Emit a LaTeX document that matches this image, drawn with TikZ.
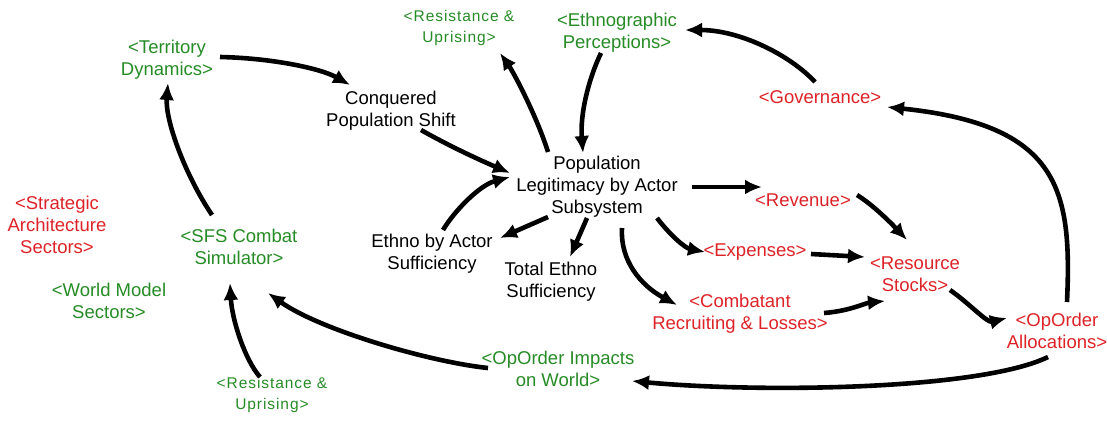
\documentclass[tikz,border=0pt]{standalone}
\usepackage{fontspec}
\setmainfont{Liberation Sans}
\usetikzlibrary{arrows.meta,calc}
\definecolor{grn}{RGB}{38,140,38}
\definecolor{rd}{RGB}{222,35,40}
\begin{document}
\begin{tikzpicture}[x=1pt,y=-1pt,
  lbl/.style={align=center,inner sep=0pt,font=\fontsize{18.5}{22}\selectfont},
  g/.style={lbl,text=grn}, r/.style={lbl,text=rd}, k/.style={lbl,text=black},
  sm/.style={lbl,text=grn,font=\fontsize{15.5}{21}\selectfont\addfontfeature{LetterSpace=6}},
  arr/.style={-{Latex[length=17pt,width=15pt]},line width=4.6pt,black}]
\useasboundingbox[fill=white] (0,0) rectangle (1107,433);

\node[g] (terr) at (167,60) {<Territory\\Dynamics>};
\node[k] (conq) at (391,111) {Conquered\\Population Shift};
\node[sm] (restop) at (459,28) {<Resistance \&\\Uprising>};
\node[g] (ethnog) at (617,33) {<Ethnographic\\Perceptions>};
\node[r] (gov) at (820,97) {<Governance>};
\node[k] (pop) at (597,187) {Population\\Legitimacy by Actor\\Subsystem};
\node[r] (rev) at (803,200) {<Revenue>};
\node[r] (strat) at (57,225) {<Strategic\\Architecture\\Sectors>};
\node[g] (sfs) at (239,247) {<SFS Combat\\Simulator>};
\node[k] (ethnoA) at (432,254) {Ethno by Actor\\Sufficiency};
\node[r] (exp) at (755,252) {<Expenses>};
\node[r] (res) at (915,274) {<Resource\\Stocks>};
\node[k] (total) at (551,282) {Total Ethno\\Sufficiency};
\node[g] (world) at (109,301) {<World Model\\Sectors>};
\node[r] (comb) at (740,314) {<Combatant\\Recruiting \& Losses>};
\node[r] (opal) at (1057,331) {<OpOrder\\Allocations>};
\node[g] (imp) at (558,369) {<OpOrder Impacts\\on World>};
\node[sm] (resbot) at (272,395) {<Resistance \&\\Uprising>};

% connectors
\draw[arr] ($(terr)+(53,-3)$) .. controls ($(terr)+(103,-2)$) and ($(conq)+(-71,-43)$) .. ($(conq)+(-41,-26)$);
\draw[arr] ($(conq)+(30,19)$) .. controls ($(conq)+(60,36)$) and ($(pop)+(-115,-26)$) .. ($(pop)+(-87,-14)$);
\draw[arr] ($(ethnoA)+(11,-24)$) .. controls ($(ethnoA)+(23,-44)$) and ($(pop)+(-117,-2)$) .. ($(pop)+(-87,-10)$);
\draw[arr] ($(pop)+(-49,30)$) -- ($(ethnoA)+(68,-16)$);
\draw[arr] ($(pop)+(-10,31)$) -- ($(total)+(19,-25)$);
\draw[arr] ($(pop)+(-49,-35)$) .. controls ($(pop)+(-60,-70)$) and ($(restop)+(55,45)$) .. ($(restop)+(41,25)$);
\draw[arr] ($(ethnog)+(-16,20)$) .. controls ($(ethnog)+(-29,47)$) and ($(pop)+(-17,-72)$) .. ($(pop)+(-14,-34)$);
\draw[arr] ($(gov)+(-5,-15)$) .. controls ($(gov)+(-30,-42)$) and ($(ethnog)+(123,-3)$) .. ($(ethnog)+(68,-3)$);
\draw[arr] ($(opal)+(10,-29)$) .. controls ($(opal)+(15,-141)$) and ($(gov)+(240,28)$) .. ($(gov)+(67,10)$);
\draw[arr] ($(pop)+(95,0)$) -- ($(rev)+(-41,-13)$);
\draw[arr] ($(rev)+(54,-5)$) .. controls ($(rev)+(70,5)$) and ($(res)+(-25,-52)$) .. ($(res)+(-8,-34)$);
\draw[arr] ($(pop)+(60,31)$) .. controls ($(pop)+(73,48)$) and ($(exp)+(-70,-4)$) .. ($(exp)+(-50,0)$);
\draw[arr] ($(exp)+(56,2)$) -- ($(res)+(-50,-17)$);
\draw[arr] ($(pop)+(25,41)$) .. controls ($(pop)+(23,73)$) and ($(comb)+(-100,-29)$) .. ($(comb)+(-63,-9)$);
\draw[arr] ($(comb)+(84,-1)$) .. controls ($(comb)+(110,-3)$) and ($(res)+(-50,29)$) .. ($(res)+(-30,27)$);
\draw[arr] ($(res)+(35,16)$) .. controls ($(res)+(55,30)$) and ($(opal)+(-70,-8)$) .. ($(opal)+(-50,-13)$);
\draw[arr] ($(opal)+(-9,26)$) .. controls ($(opal)+(-77,59)$) and ($(imp)+(202,24)$) .. ($(imp)+(74,12)$);
\draw[arr] ($(imp)+(-70,-1)$) .. controls ($(imp)+(-128,-7)$) and ($(sfs)+(81,83)$) .. ($(sfs)+(29,46)$);
\draw[arr] ($(resbot)+(-12,-18)$) .. controls ($(resbot)+(-27,-35)$) and ($(sfs)+(-7,73)$) .. ($(sfs)+(-9,36)$);
\draw[arr] ($(sfs)+(-27,-32)$) .. controls ($(sfs)+(-54,-72)$) and ($(terr)+(-2,60)$) .. ($(terr)+(1,23)$);
\end{tikzpicture}
\end{document}
